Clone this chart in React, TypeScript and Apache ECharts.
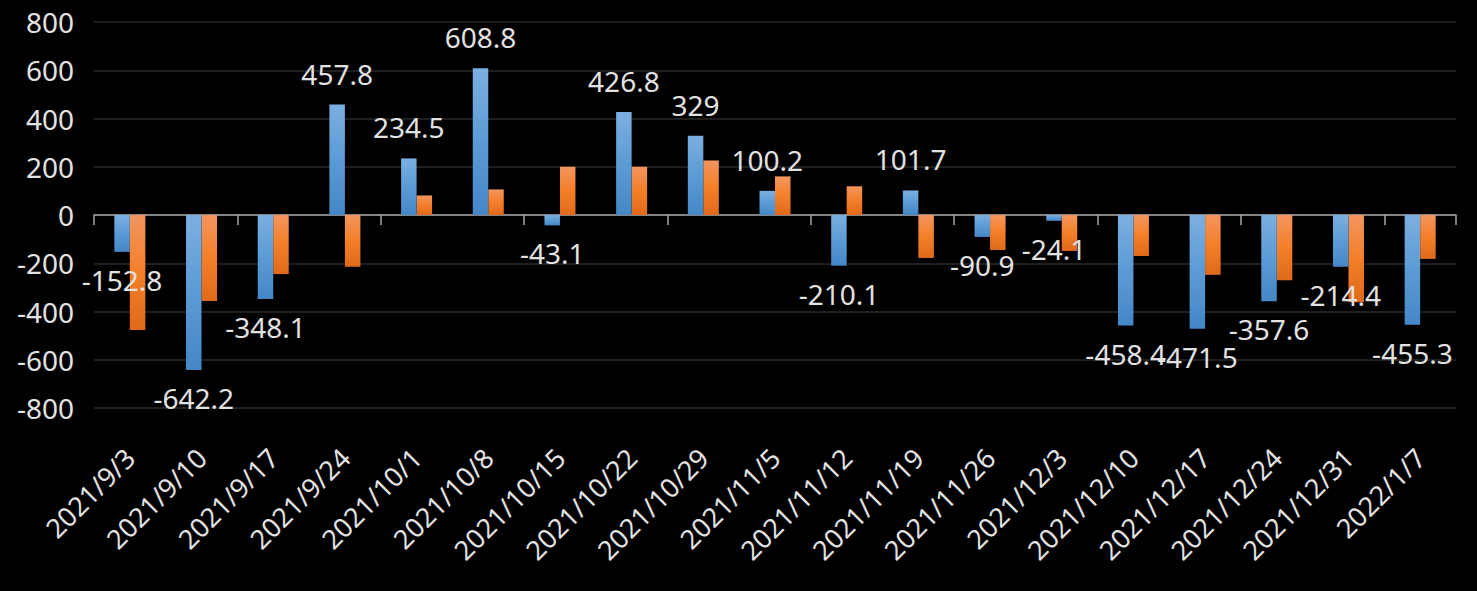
import React, { useEffect, useRef } from "react";
import * as echarts from "echarts";

const categories = [
  "2021/9/3", "2021/9/10", "2021/9/17", "2021/9/24", "2021/10/1", "2021/10/8",
  "2021/10/15", "2021/10/22", "2021/10/29", "2021/11/5", "2021/11/12", "2021/11/19",
  "2021/11/26", "2021/12/3", "2021/12/10", "2021/12/17", "2021/12/24", "2021/12/31",
  "2022/1/7",
];

const blueValues = [
  -152.8, -642.2, -348.1, 457.8, 234.5, 608.8, -43.1, 426.8, 329, 100.2, -210.1,
  101.7, -90.9, -24.1, -458.4, -471.5, -357.6, -214.4, -455.3,
];

const orangeValues = [
  -477, -356, -245, -215, 81, 106, 200, 200, 226, 160, 119, -178, -145, -149,
  -170, -248, -270, -362, -182,
];

const yMin = -800;
const yMax = 800;
const yStep = 200;

const textColor = "#e2e2e2";
const fontFamily = "'Noto Sans', 'Open Sans', sans-serif";

export default function App() {
  const ref = useRef<HTMLDivElement>(null);

  useEffect(() => {
    if (!ref.current) return;
    const chart = echarts.init(ref.current, undefined, { renderer: "svg" });

    const blueGrad = {
      type: "linear", x: 0, y: 0, x2: 0, y2: 1,
      colorStops: [
        { offset: 0, color: "#7cafe0" },
        { offset: 0.5, color: "#5b9bd5" },
        { offset: 1, color: "#4586c6" },
      ],
    };
    const orangeGrad = {
      type: "linear", x: 0, y: 0, x2: 0, y2: 1,
      colorStops: [
        { offset: 0, color: "#f3955f" },
        { offset: 0.5, color: "#f47f28" },
        { offset: 1, color: "#e0691a" },
      ],
    };

    chart.setOption({
      animation: false,
      backgroundColor: "#000000",
      grid: { left: 94, right: 21, top: 22, bottom: 183, containLabel: false },
      xAxis: [
        {
          type: "category",
          data: categories,
          position: "bottom",
          axisLine: { show: true, onZero: true, lineStyle: { color: "#a6a6a6", width: 1.5 } },
          axisTick: { show: true, length: 10, lineStyle: { color: "#a6a6a6", width: 1.5 } },
          axisLabel: { show: false },
          splitLine: { show: false },
        },
        {
          type: "category",
          data: categories,
          position: "bottom",
          axisLine: { show: false, onZero: false },
          axisTick: { show: false },
          axisLabel: {
            show: true,
            interval: 0,
            rotate: 45,
            margin: 45,
            fontSize: 27,
            color: textColor,
            fontFamily,
          },
          splitLine: { show: false },
        },
      ],
      yAxis: {
        type: "value",
        min: yMin,
        max: yMax,
        interval: yStep,
        axisLine: { show: false },
        axisTick: { show: false },
        axisLabel: { fontSize: 28, color: textColor, margin: 20, fontFamily },
        splitLine: { show: true, lineStyle: { color: "#2a2a2a", width: 1.5 } },
      },
      series: [
        {
          name: "系列1",
          type: "bar",
          xAxisIndex: 0,
          barWidth: 15.5,
          barGap: "0%",
          itemStyle: { color: blueGrad },
          data: blueValues.map((v) => ({
            value: v,
            label: {
              show: true,
              position: v >= 0 ? "top" : "bottom",
              distance: v >= 0 ? 17 : 14,
              fontSize: 28,
              color: textColor,
              fontFamily,
            },
          })),
          z: 2,
        },
        {
          name: "系列2",
          type: "bar",
          xAxisIndex: 0,
          barWidth: 15.5,
          barGap: "0%",
          itemStyle: { color: orangeGrad },
          data: orangeValues,
          z: 1,
        },
      ],
    });

    return () => chart.dispose();
  }, []);

  return (
    <div
      ref={ref}
      style={{ position: "fixed", left: 0, top: 0, width: 1477, height: 591, background: "#000" }}
    />
  );
}
